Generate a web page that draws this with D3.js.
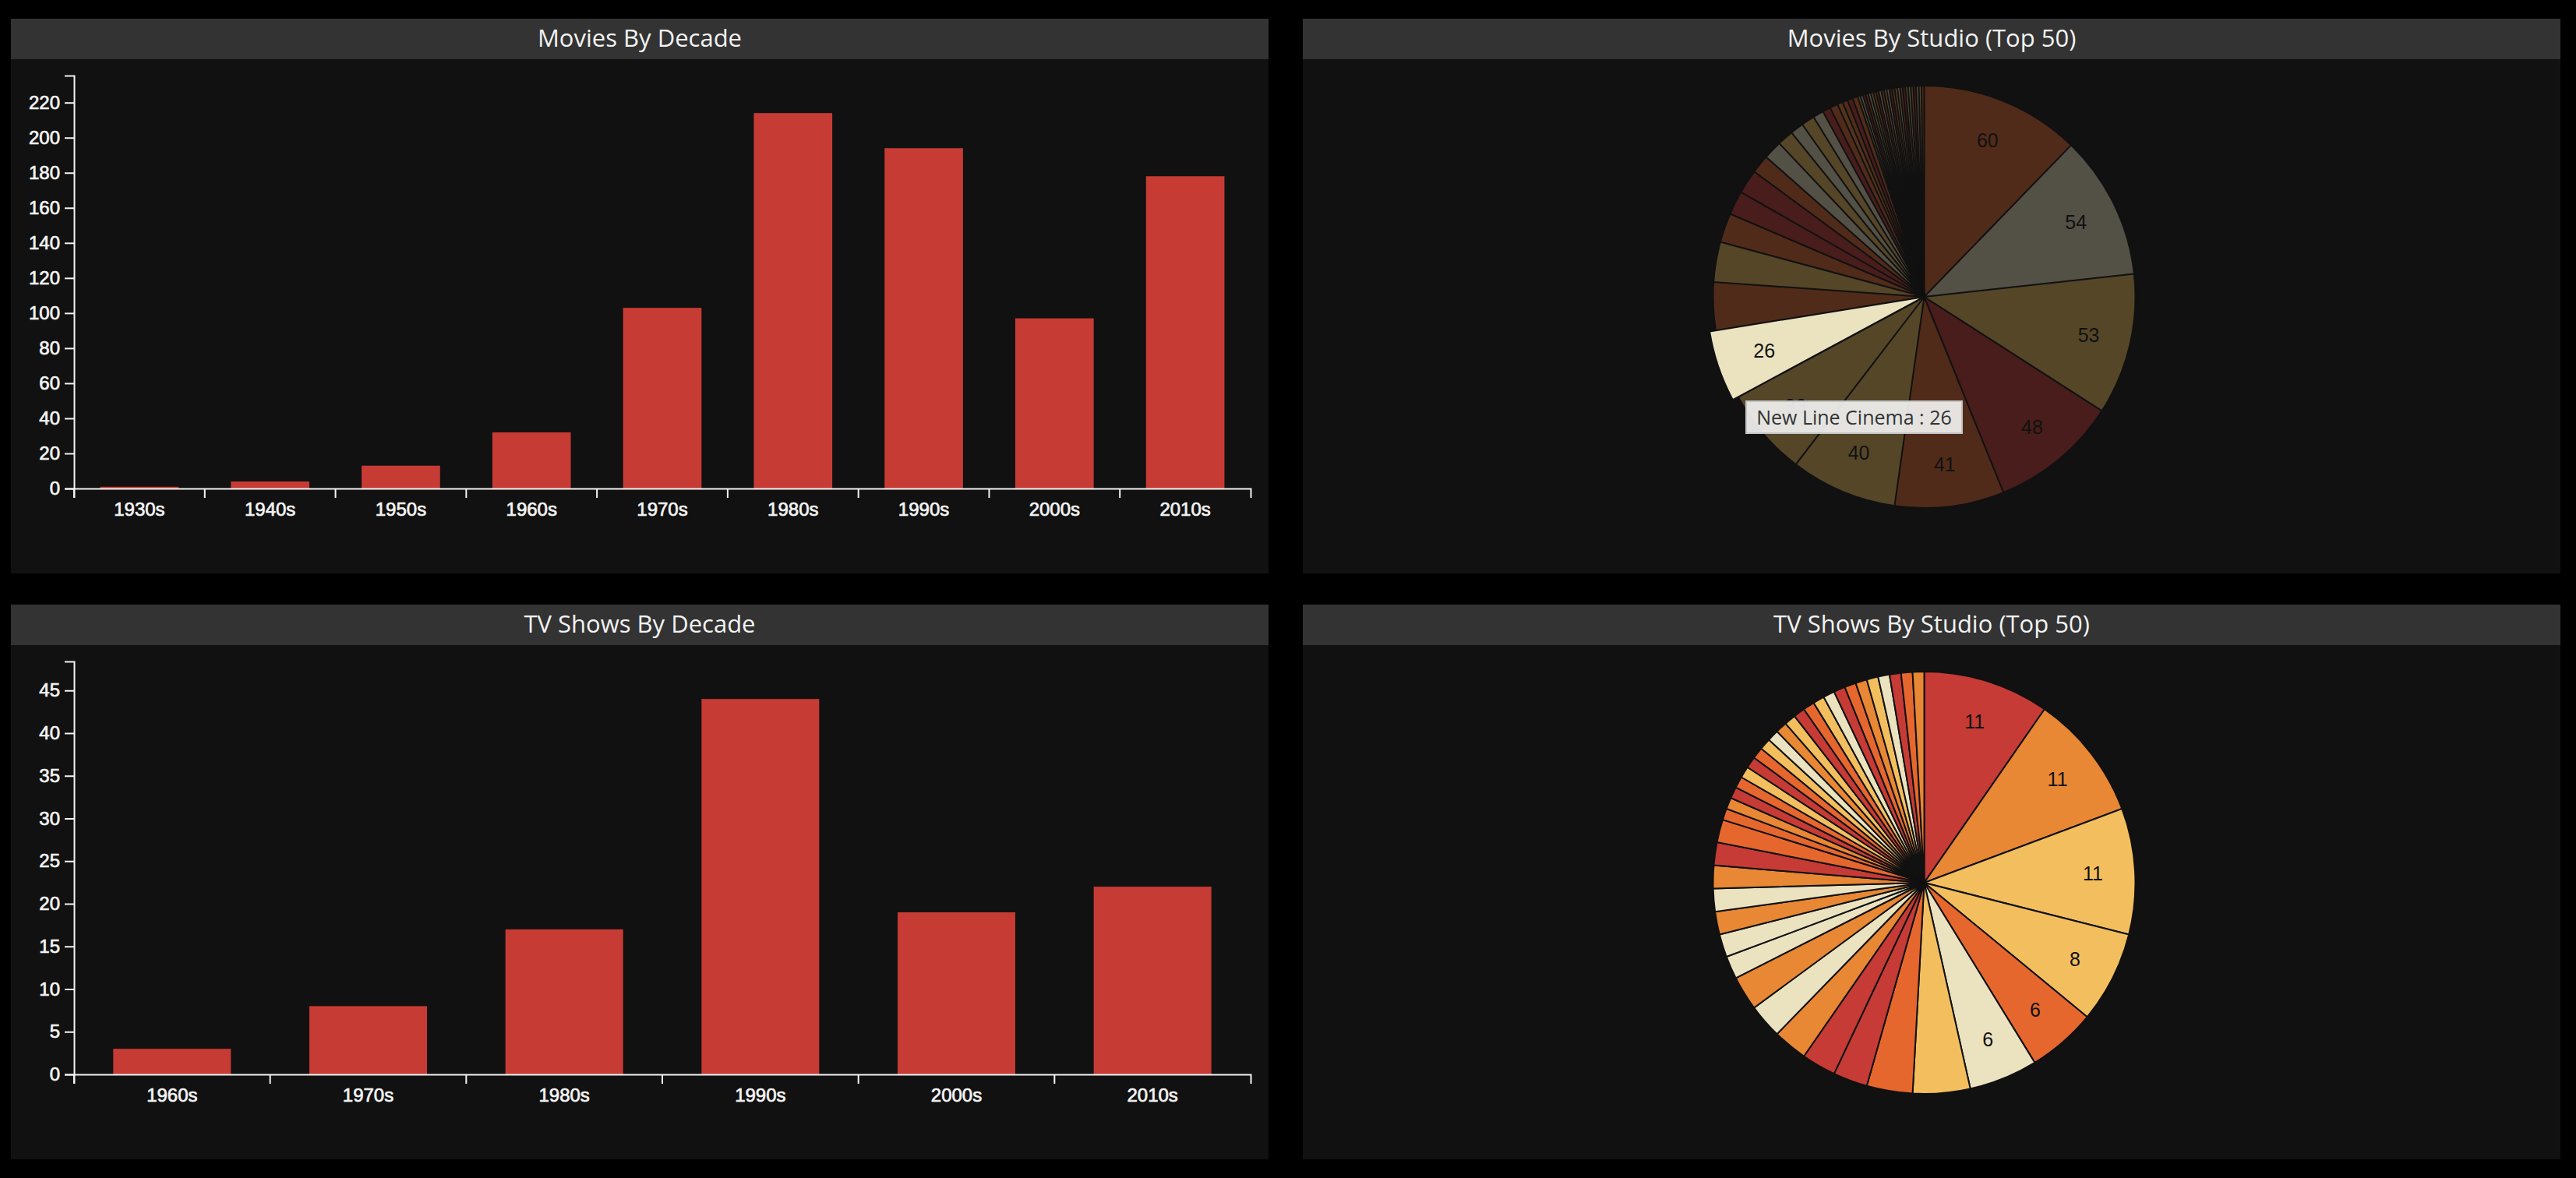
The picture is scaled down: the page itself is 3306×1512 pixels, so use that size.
<!DOCTYPE html>
<html>
<head>
<meta charset="utf-8">
<script src="https://cdn.jsdelivr.net/npm/d3@7"></script>
<style>
  html, body { margin: 0; padding: 0; background: #000; overflow: hidden; }
  #tooltip {
    position: absolute;
    padding: 0 12px;
    line-height: 39px;
    background: rgba(240, 240, 240, 0.93);
    border: 2px solid #c4c4c4;
    color: #333;
    font-family: "Open Sans", sans-serif;
    font-size: 25px;
    white-space: nowrap;
  }
</style>
</head>
<body>
<svg id="board" width="3306" height="1512"></svg>
<div id="tooltip"></div>
<script>
// ---- data ----
var movieDecades = ["1930s", "1940s", "1950s", "1960s", "1970s", "1980s", "1990s", "2000s", "2010s"];
var movieDecadeCounts = [1, 4, 13, 32, 103, 214, 194, 97, 178];

var tvDecades = ["1960s", "1970s", "1980s", "1990s", "2000s", "2010s"];
var tvDecadeCounts = [3, 8, 17, 44, 19, 22];

// top studios, already sorted biggest first
var movieStudioCounts = [60, 54, 53, 48, 41, 40, 33, 26, 18, 15, 11, 9, 9, 7, 7, 6, 5, 5, 4, 3, 3, 2, 2, 2, 2,
    1, 1, 1, 1, 1, 1, 1, 1, 1, 1, 1, 1, 1, 1, 1, 1, 1, 1, 1, 1, 1, 1, 1, 1, 1];
var tvStudioCounts = [11, 11, 11, 8, 6, 6, 5, 4, 3, 3, 3, 3, 3, 2, 2, 2, 2, 2, 2, 2,
    1, 1, 1, 1, 1, 1, 1, 1, 1, 1, 1, 1, 1, 1, 1, 1, 1, 1, 1, 1, 1, 1, 1];

var hoveredStudio = "New Line Cinema";
var hoveredIndex = 7;

// ---- colours ----
var palette = ["#c63b35", "#e88734", "#f3bf5e", "#e6672e", "#ebe3c0"];
// palette slot of each slice (0 red, 1 orange, 2 yellow, 3 orange-red, 4 cream)
var movieSliceColour = [3, 4, 2, 0, 3, 2, 2, 4, 3, 2, 3, 0, 0, 3, 4, 2, 4, 2, 4, 0, 3, 1, 3, 0, 3,
    2, 4, 0, 3, 4, 2, 1, 0, 4, 3, 2, 4, 0, 1, 2, 4, 3, 0, 2, 4, 1, 0, 4, 2, 3];
var tvSliceColour = [0, 1, 2, 2, 3, 4, 2, 3, 0, 0, 1, 4, 1, 4, 4, 1, 4, 1, 0, 3,
    3, 1, 0, 3, 2, 0, 3, 2, 4, 1, 2, 0, 3, 2, 4, 0, 3, 1, 2, 4, 0, 3, 1];

var barColour = "#c73b35";
var tickFont = "'Liberation Sans', Arial, sans-serif";

var svg = d3.select("#board");

// panels
var panels = [
    { x: 14, y: 24, title: "Movies By Decade" },
    { x: 1672, y: 24, title: "Movies By Studio (Top 50)" },
    { x: 14, y: 776, title: "TV Shows By Decade" },
    { x: 1672, y: 776, title: "TV Shows By Studio (Top 50)" }
];
var panelW = 1614, panelH = 712, headH = 52;

panels.forEach(function (p) {
    svg.append("rect").attr("x", p.x).attr("y", p.y)
        .attr("width", panelW).attr("height", panelH).attr("fill", "#111");
    svg.append("rect").attr("x", p.x).attr("y", p.y)
        .attr("width", panelW).attr("height", headH).attr("fill", "#333");
    svg.append("text")
        .attr("x", p.x + panelW / 2).attr("y", p.y + 36)
        .attr("text-anchor", "middle")
        .attr("fill", "#f2f2f2")
        .style("font-family", "'Open Sans', sans-serif")
        .style("font-size", "31px")
        .style("font-weight", 500)
        .text(p.title);
});

function barChart(cats, vals, bodyTop) {
    var g = svg.append("g");
    var x = d3.scaleBand().domain(cats).range([95, 1605]).paddingInner(0.4).paddingOuter(0.2);
    var y = d3.scaleLinear().domain([0, d3.max(vals) * 1.1]).range([bodyTop + 551, bodyTop + 21]);

    g.selectAll(".bar")
        .data(vals)
        .enter().append("rect")
        .attr("class", "bar")
        .attr("x", function (d, i) { return x(cats[i]); })
        .attr("width", x.bandwidth())
        .attr("y", function (d) { return y(d); })
        .attr("height", function (d) { return y(0) - y(d); })
        .attr("fill", barColour);

    var xAxis = g.append("g")
        .attr("transform", "translate(0," + y(0) + ")")
        .call(d3.axisBottom(x).tickSize(12).tickPadding(6));
    // ticks sit on the band edges, labels in the middle
    xAxis.selectAll(".tick line").attr("transform", "translate(" + (-x.step() / 2) + ",0)");

    var yAxis = g.append("g")
        .attr("transform", "translate(95,0)")
        .call(d3.axisLeft(y).tickSize(12).tickPadding(6));

    [xAxis, yAxis].forEach(function (a) {
        a.attr("font-size", 24).attr("font-family", tickFont).style("color", "#f4f4f4");
        a.selectAll("path, line").attr("stroke-width", 2);
        a.selectAll("text").attr("stroke", "currentColor").attr("stroke-width", 0.7);
    });
}

barChart(movieDecades, movieDecadeCounts, 76);
barChart(tvDecades, tvDecadeCounts, 828);

function pieChart(vals, colourSlots, cx, cy, r, hovered) {
    var g = svg.append("g").attr("transform", "translate(" + cx + "," + cy + ")");
    var pie = d3.pie().sort(null);
    var arcs = pie(vals);
    var arc = d3.arc().innerRadius(0).outerRadius(r);
    var arcBig = d3.arc().innerRadius(0).outerRadius(r + 8);
    var labelArc = d3.arc().innerRadius(r * 0.8).outerRadius(r * 0.8);

    var slices = g.selectAll(".slice")
        .data(arcs)
        .enter().append("path")
        .attr("class", "slice")
        .attr("d", function (d, i) { return i === hovered ? arcBig(d) : arc(d); })
        .attr("fill", function (d, i) { return palette[colourSlots[i]]; })
        .attr("stroke", "#111")
        .attr("stroke-width", 2)
        .attr("opacity", function (d, i) {
            if (hovered == null) return 1;
            return i === hovered ? 1 : 0.3;
        });
    if (hovered != null) slices.filter(function (d, i) { return i === hovered; }).raise();

    g.selectAll(".lbl")
        .data(arcs.filter(function (d) { return d.endAngle - d.startAngle > 0.3; }))
        .enter().append("text")
        .attr("class", "lbl")
        .attr("transform", function (d) { return "translate(" + labelArc.centroid(d) + ")"; })
        .attr("dy", "0.35em")
        .attr("text-anchor", "middle")
        .attr("fill", "#111")
        .style("font-family", tickFont)
        .style("font-size", "25px")
        .text(function (d) { return d.value; });

    return { arcs: arcs, arc: arc };
}

var moviePie = pieChart(movieStudioCounts, movieSliceColour, 2469.5, 381, 271, hoveredIndex);
pieChart(tvStudioCounts, tvSliceColour, 2469.5, 1133, 271, null);

// tooltip of the hovered slice
var c = moviePie.arc.centroid(moviePie.arcs[hoveredIndex]);
d3.select("#tooltip")
    .style("left", (2469.5 + c[0] - 101) + "px")
    .style("top", (381 + c[1] + 89) + "px")
    .text(hoveredStudio + " : " + movieStudioCounts[hoveredIndex]);
</script>
</body>
</html>
